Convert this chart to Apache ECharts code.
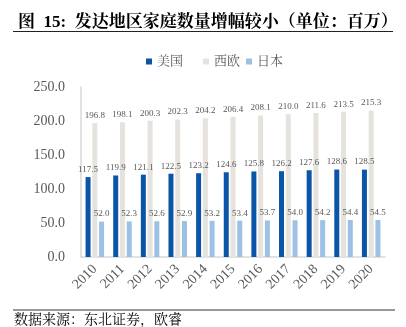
<!DOCTYPE html>
<html><head><meta charset="utf-8">
<script src="https://cdn.jsdelivr.net/npm/echarts@6/dist/echarts.min.js"></script>
<style>html,body{margin:0;padding:0;background:#fff}#c{width:406px;height:327px}</style>
</head><body><div id="c"></div>
<script>
const years = ['2010','2011','2012','2013','2014','2015','2016','2017','2018','2019','2020'];
const usa = [117.5,119.9,121.1,122.5,123.2,124.6,125.8,126.2,127.6,128.6,128.5];
const westEurope = [196.8,198.1,200.3,202.3,204.2,206.4,208.1,210.0,211.6,213.5,215.3];
const japan = [52.0,52.3,52.6,52.9,53.2,53.4,53.7,54.0,54.2,54.4,54.5];
const seriesNames = ['美国','西欧','日本'];
const titleText = '图  15:  发达地区家庭数量增幅较小（单位：百万）';
const sourceText = '数据来源：东北证券，欧睿';

const serif = '"Liberation Serif","Noto Serif CJK SC","Noto Sans CJK SC",serif';
const labelStyle = {show:true, position:'top', fontSize:9, color:'#595959', fontFamily:serif, distance:3, formatter:p=>p.value.toFixed(1)};
const legendBase = {top:50, itemWidth:6, itemHeight:6, icon:'rect',
  textStyle:{fontSize:13, color:'#595959', fontFamily:serif, padding:[0,0,0,0]}};
const chart = echarts.init(document.getElementById('c'));
chart.setOption({
  animation:false,
  backgroundColor:'#fff',
  title:{text:titleText, left:13, top:9, textStyle:{fontSize:17, fontWeight:'bold', color:'#000', fontFamily:serif}},
  legend:[
    Object.assign({}, legendBase, {left:141, data:[seriesNames[0]]}),
    Object.assign({}, legendBase, {left:198, data:[seriesNames[1]]}),
    Object.assign({}, legendBase, {left:241, data:[seriesNames[2]]})
  ],
  grid:{left:81, right:21, top:87, bottom:70},
  xAxis:{type:'category', data:years,
    axisLine:{lineStyle:{color:'#d9d9d9', width:1.5}}, axisTick:{show:false},
    axisLabel:{rotate:45, fontSize:14, color:'#595959', fontFamily:serif, margin:10}},
  yAxis:{type:'value', min:0, max:250, interval:50,
    axisLine:{show:true, lineStyle:{color:'#d9d9d9', width:1.5}}, splitLine:{show:false},
    axisLabel:{fontSize:14, color:'#595959', fontFamily:serif, margin:16, formatter:v=>v.toFixed(1)}},
  series:[
    {name:seriesNames[0], type:'bar', data:usa, barWidth:5, barGap:'35%', itemStyle:{color:'#0a55a8'}, label:labelStyle},
    {name:seriesNames[1], type:'bar', data:westEurope, barWidth:5, barGap:'35%', itemStyle:{color:'#e6e3de'}, label:labelStyle},
    {name:seriesNames[2], type:'bar', data:japan, barWidth:5, barGap:'35%', itemStyle:{color:'#9dc1e4'}, label:labelStyle}
  ],
  graphic:[
    {type:'line', shape:{x1:13, y1:31.5, x2:393, y2:31.5}, style:{stroke:'#222', lineWidth:1}},
    {type:'line', shape:{x1:13, y1:310, x2:395, y2:310}, style:{stroke:'#777', lineWidth:1.5}},
    {type:'text', left:14, top:313, style:{text:sourceText, fontSize:14, fill:'#000', fontFamily:serif}}
  ]
});
</script></body></html>
